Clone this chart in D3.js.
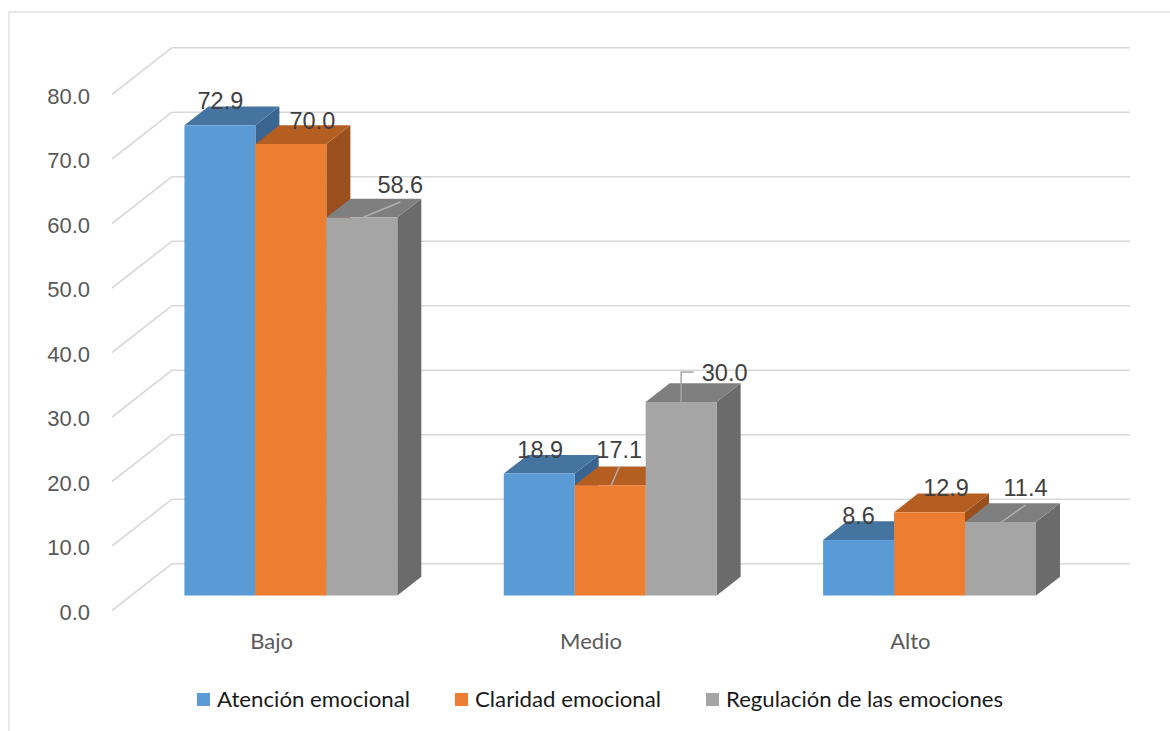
<!DOCTYPE html>
<html>
<head>
<meta charset="utf-8">
<script src="https://cdn.jsdelivr.net/npm/d3@7"></script>
<style>
  html, body { margin: 0; padding: 0; background: #fff; }
  svg { display: block; }
</style>
</head>
<body>
<svg id="chart" width="1170" height="731"></svg>
<script>
// ---------- data ----------
const categories = ["Bajo", "Medio", "Alto"];
const seriesNames = ["Atención emocional", "Claridad emocional", "Regulación de las emociones"];
const atencion = [72.9, 18.9, 8.6];
const claridad = [70.0, 17.1, 12.9];
const regulacion = [58.6, 30.0, 11.4];
const yTicks = [0, 10, 20, 30, 40, 50, 60, 70, 80];

// ---------- styling / layout (not data) ----------
const faceColors = [
  { front: "#5B9BD5", top: "#4574A0", side: "#3A6591" },
  { front: "#ED7D31", top: "#B55E22", side: "#9A4F1C" },
  { front: "#A5A5A5", top: "#7F7F7F", side: "#6B6B6B" }
];
// label nudges relative to bar's front-top centre: [dx, dyBaseline, leaderType]
const labelNudge = [
  [[0.5, -17, 0], [1, -16, 0], [0, -16.5, 0]],
  [[21.5, -15.5, 0], [9, -27.7, 1], [16.5, -16.8, 0]],
  [[38.5, -25, 1], [43.5, -21.5, 2], [25, -26.5, 1]]
];
const legendTextWidth = [193, 186, 277];

const series = [atencion, claridad, regulacion];
const svg = d3.select("#chart");

// Chart area border
svg.append("rect")
  .attr("x", 9).attr("y", 12).attr("width", 1200).attr("height", 760)
  .attr("fill", "#fff").attr("stroke", "#d9d9d9").attr("stroke-width", 1.2);

// 3D geometry
const frontLeft = 112, frontRight = 1070, floorFrontY = 610.5;
const depthDX = 60, depthDY = -46.8;
const f0 = 0.32, f1 = 0.72;

const y = d3.scaleLinear().domain([0, 80]).range([0, 516]);
const xCat = d3.scaleBand().domain(categories).range([frontLeft, frontRight]).paddingInner(0).paddingOuter(0);
const xSer = d3.scaleBand().domain(d3.range(3)).range([0, xCat.bandwidth()]).paddingInner(0).paddingOuter(0.75);

// gridlines
const grid = svg.append("g").attr("stroke", "#d9d9d9").attr("stroke-width", 1.6).attr("fill", "none");
yTicks.forEach(v => {
  const fy = floorFrontY - y(v);
  const by = fy + depthDY;
  grid.append("line").attr("x1", frontLeft).attr("y1", fy).attr("x2", frontLeft + depthDX).attr("y2", by);
  grid.append("line").attr("x1", frontLeft + depthDX).attr("y1", by).attr("x2", frontRight + depthDX).attr("y2", by);
});

// y-axis labels
svg.append("g").selectAll("text").data(yTicks).join("text")
  .attr("x", 90).attr("y", v => floorFrontY - y(v) + 9)
  .attr("text-anchor", "end")
  .attr("font-family", "Liberation Sans, Arial, sans-serif")
  .attr("font-size", 22).attr("fill", "#595959")
  .text(v => v.toFixed(1));

// category labels
svg.append("g").selectAll("text").data(categories).join("text")
  .attr("x", c => xCat(c) + xCat.bandwidth() / 2)
  .attr("y", 649)
  .attr("text-anchor", "middle")
  .attr("font-family", "Lato, 'Open Sans', sans-serif")
  .attr("font-size", 22).attr("fill", "#595959")
  .text(c => c);

// bars
const bx = f0 * depthDX, by0 = floorFrontY + f0 * depthDY;
const ddx = (f1 - f0) * depthDX, ddy = (f1 - f0) * depthDY;
const barsG = svg.append("g");
const labelData = [];
categories.forEach((c, ci) => {
  series.forEach((vals, si) => {
    const v = vals[ci];
    const x0 = xCat(c) + xSer(si) + bx;
    const w = xSer.bandwidth();
    const x1 = x0 + w;
    const yb = by0, yt = by0 - y(v);
    const col = faceColors[si];
    barsG.append("path")
      .attr("d", `M${x1},${yb}L${x1 + ddx},${yb + ddy}L${x1 + ddx},${yt + ddy}L${x1},${yt}Z`)
      .attr("fill", col.side);
    barsG.append("path")
      .attr("d", `M${x0},${yt}L${x1},${yt}L${x1 + ddx},${yt + ddy}L${x0 + ddx},${yt + ddy}Z`)
      .attr("fill", col.top);
    barsG.append("rect")
      .attr("x", x0).attr("y", yt).attr("width", w).attr("height", yb - yt)
      .attr("fill", col.front);
    labelData.push({ v, ax: x0 + w / 2, ay: yt, nudge: labelNudge[si][ci] });
  });
});

// data labels and leader lines
const lblG = svg.append("g");
const fs = 23.5;
labelData.forEach(d => {
  const [dx, dy, lt] = d.nudge;
  const cx = d.ax + dx, base = d.ay + dy + 0.5;
  const t = lblG.append("text")
    .attr("x", cx).attr("y", base)
    .attr("text-anchor", "middle")
    .attr("font-family", "Liberation Sans, Arial, sans-serif")
    .attr("font-size", fs).attr("fill", "#404040")
    .text(d.v.toFixed(1));
  if (lt === 1) {
    lblG.append("line")
      .attr("x1", d.ax + 1).attr("y1", d.ay).attr("x2", cx).attr("y2", base + 9)
      .attr("stroke", "#b0b0b0").attr("stroke-width", 1.5);
  } else if (lt === 2) {
    const tw = t.node().getComputedTextLength();
    const midY = base - 9;
    lblG.append("path")
      .attr("d", `M${d.ax},${d.ay}L${d.ax},${midY}L${cx - tw / 2 - 8},${midY}`)
      .attr("fill", "none").attr("stroke", "#a6a6a6").attr("stroke-width", 1.5);
  }
});

// legend
const legendX = [197, 455, 706];
const lg = svg.append("g");
seriesNames.forEach((n, i) => {
  lg.append("rect").attr("x", legendX[i]).attr("y", 693).attr("width", 13).attr("height", 13)
    .attr("fill", faceColors[i].front);
  lg.append("text").attr("x", legendX[i] + 20).attr("y", 707)
    .attr("font-family", "Lato, 'Open Sans', sans-serif")
    .attr("font-size", 21.5).attr("fill", "#1a1a1a")
    .attr("textLength", legendTextWidth[i]).attr("lengthAdjust", "spacingAndGlyphs")
    .text(n);
});
</script>
</body>
</html>
